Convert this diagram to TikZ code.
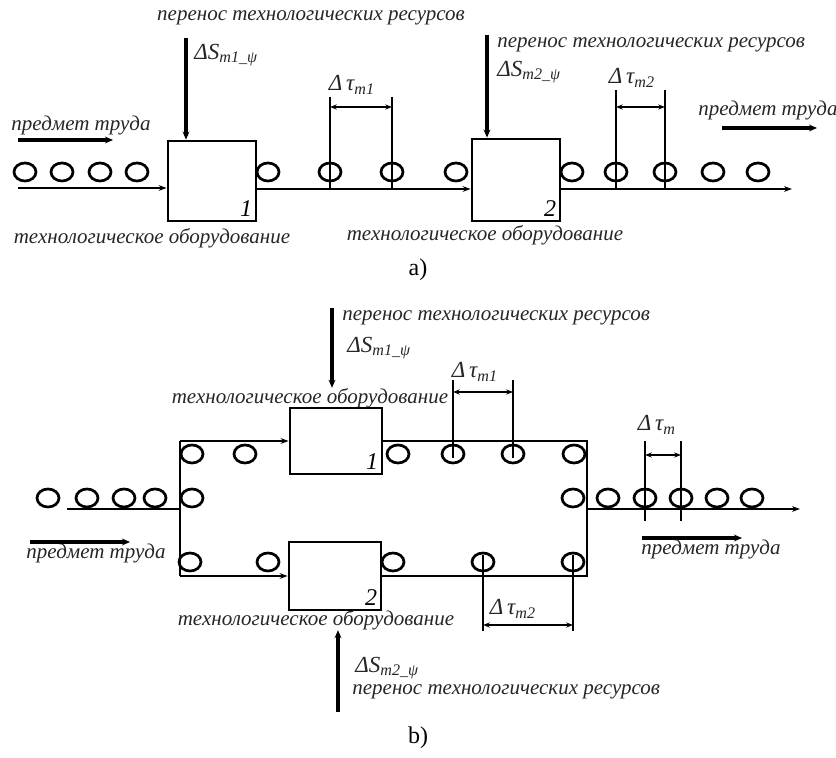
\documentclass[tikz,border=0pt]{standalone}
\usepackage{fontspec}
\setmainfont{Liberation Serif}
\usetikzlibrary{arrows.meta,shapes.geometric}
\tikzset{
  unit/.style={draw,line width=1.4pt,inner sep=0pt},
  part/.style={ellipse,draw,line width=1.35pt,minimum width=11pt,minimum height=9pt,inner sep=0pt},
  belt/.style={line width=1pt},
  beltin/.style={belt,-{Stealth[length=1.4mm,width=1mm]}},
  feed/.style={-{Stealth[length=1.4mm,width=1.2mm]},line width=1.6pt},
  dimline/.style={line width=0.8pt},
  dimarrow/.style={{Stealth[length=1.2mm,width=0.9mm]}-{Stealth[length=1.2mm,width=0.9mm]},line width=0.6pt},
  caption/.style={font=\itshape\fontsize{10.5}{12}\selectfont,text=black!85,inner sep=0pt},
  delta/.style={font=\itshape\fontsize{11.5}{13}\selectfont,text=black!85,inner sep=0pt},
  num/.style={font=\itshape\fontsize{12}{14}\selectfont,inner sep=2.5pt},
  sublabel/.style={font=\fontsize{12}{14}\selectfont,inner sep=0pt},
}
\begin{document}
\begin{tikzpicture}[x=0.5pt,y=-0.5pt]
  \useasboundingbox (0,0) rectangle (836,758);

  \node[caption] (ta1) at (311,18) {перенос технологических ресурсов};
  \node[delta,anchor=west] (sa1) at (194,55) {ΔS\textsubscript{m1\_ψ}};
  \node[unit,minimum width=44pt,minimum height=40pt] (A1) at (212,181) {};
  \node[num,anchor=south east] (na1) at (A1.south east) {1};
  \coordinate (fa1) at (186,38);
  \draw[feed] (fa1) -- (fa1 |- A1.north);
  \node[caption] (wa1) at (81,125) {предмет труда};
  \coordinate (wa1s) at (18,140);
  \coordinate (wa1e) at (113,140);
  \draw[feed] (wa1s) -- (wa1e);
  \foreach \x [count=\i] in {25,62,100,137}
    \node[part] (pa\i) at (\x,172) {};
  \coordinate (ina) at (18,188);
  \draw[beltin] (ina) -- (ina -| A1.west);
  \node[caption] (ea1) at (152,238) {технологическое оборудование};

  \node[unit,minimum width=44pt,minimum height=41pt] (A2) at (516,180) {};
  \node[num,anchor=south east] (na2) at (A2.south east) {2};
  \foreach \x [count=\i] in {268,330,392,456}
    \node[part] (pb\i) at (\x,172) {};
  \draw[beltin] (A1.east |- 0,189) -- (A2.west |- 0,189);
  \draw[dimline] (pb2 |- 0,97) -- (pb2 |- 0,190);
  \draw[dimline] (pb3 |- 0,97) -- (pb3 |- 0,190);
  \draw[dimarrow] (pb2 |- 0,107) -- (pb3 |- 0,107);
  \node[delta] (da1) at (352,85) {Δ\,τ\textsubscript{m1}};
  \node[caption] (ea2) at (485,235) {технологическое оборудование};
  \coordinate (fa2) at (487,35);
  \draw[feed] (fa2) -- (fa2 |- A2.north);
  \node[caption,anchor=west] (ta2) at (497,45) {перенос технологических ресурсов};
  \node[delta,anchor=west] (sa2) at (497,72) {ΔS\textsubscript{m2\_ψ}};

  \foreach \x [count=\i] in {572,616,665,713,758}
    \node[part] (pc\i) at (\x,172) {};
  \coordinate (outa) at (792,189);
  \draw[beltin] (A2.east |- outa) -- (outa);
  \draw[dimline] (pc2 |- 0,90) -- (pc2 |- 0,190);
  \draw[dimline] (pc3 |- 0,90) -- (pc3 |- 0,190);
  \draw[dimarrow] (pc2 |- 0,107) -- (pc3 |- 0,107);
  \node[delta] (da2) at (632,78) {Δ\,τ\textsubscript{m2}};
  \node[caption] (wa2) at (768,110) {предмет труда};
  \coordinate (wa2s) at (722,128);
  \coordinate (wa2e) at (817,128);
  \draw[feed] (wa2s) -- (wa2e);
  \node[sublabel] (capa) at (418,270) {a)};

  \node[caption,anchor=west] (tb1) at (342,318) {перенос технологических ресурсов};
  \node[delta,anchor=west] (sb1) at (347,348) {ΔS\textsubscript{m1\_ψ}};
  \node[caption] (wb1) at (310,398) {технологическое оборудование};
  \coordinate (fb1) at (332,308);
  \draw[feed] (fb1) -- (fb1 |- wb1.north);
  \node[unit,minimum width=46pt,minimum height=33pt] (B1) at (336,441) {};
  \node[num,anchor=south east] (nb1) at (B1.south east) {1};
  \node[unit,minimum width=46pt,minimum height=34pt] (B2) at (335,576) {};
  \node[num,anchor=south east] (nb2) at (B2.south east) {2};
  \coordinate (split) at (180,441);
  \coordinate (merge) at (587,441);
  \draw[belt] (split) -- (split |- B2.west);
  \draw[beltin] (split) -- (B1.west);
  \draw[beltin] (split |- B2.west) -- (B2.west);
  \draw[belt] (B1.east) -- (merge) -- (merge |- B2.east) -- (B2.east);

  \foreach \x [count=\i] in {192,245,398,453,513,574}
    \node[part] (pd\i) at (\x,454) {};
  \draw[dimline] (pd4 |- 0,380) -- (pd4 |- 0,458);
  \draw[dimline] (pd5 |- 0,380) -- (pd5 |- 0,458);
  \draw[dimarrow] (pd4 |- 0,392) -- (pd5 |- 0,392);
  \node[delta] (db1) at (475,372) {Δ\,τ\textsubscript{m1}};

  \foreach \x [count=\i] in {48,87,124,155,192}
    \node[part] (pe\i) at (\x,498) {};
  \coordinate (inb) at (67,509);
  \draw[belt] (inb) -- (inb -| split);
  \node[caption] (wb2) at (96,553) {предмет труда};
  \coordinate (wb2s) at (30,542);
  \coordinate (wb2e) at (130,542);
  \draw[feed] (wb2s) -- (wb2e);

  \foreach \x [count=\i] in {573,608,645,681,717,752}
    \node[part] (pf\i) at (\x,498) {};
  \coordinate (outb) at (800,509);
  \draw[beltin] (merge |- outb) -- (outb);
  \draw[dimline] (pf3 |- 0,441) -- (pf3 |- 0,521);
  \draw[dimline] (pf4 |- 0,441) -- (pf4 |- 0,521);
  \draw[dimarrow] (pf3 |- 0,455) -- (pf4 |- 0,455);
  \node[delta] (db3) at (657,425) {Δ\,τ\textsubscript{m}};
  \coordinate (wb3s) at (642,538);
  \coordinate (wb3e) at (742,538);
  \draw[feed] (wb3s) -- (wb3e);
  \node[caption] (wb3) at (711,549) {предмет труда};

  \foreach \x [count=\i] in {190,268,393,483,573}
    \node[part] (pg\i) at (\x,562) {};
  \draw[dimline] (pg4 |- 0,555) -- (pg4 |- 0,631);
  \draw[dimline] (pg5 |- 0,555) -- (pg5 |- 0,631);
  \draw[dimarrow] (pg4 |- 0,625) -- (pg5 |- 0,625);
  \node[delta] (db2) at (513,609) {Δ\,τ\textsubscript{m2}};
  \node[caption] (wb4) at (316,620) {технологическое оборудование};
  \coordinate (fb2) at (338,712);
  \draw[feed] (fb2) -- (fb2 |- wb4.south);
  \node[delta,anchor=west] (sb2) at (355,668) {ΔS\textsubscript{m2\_ψ}};
  \node[caption,anchor=west] (tb2) at (352,692) {перенос технологических ресурсов};
  \node[sublabel] (capb) at (418,738) {b)};
\end{tikzpicture}
\end{document}
